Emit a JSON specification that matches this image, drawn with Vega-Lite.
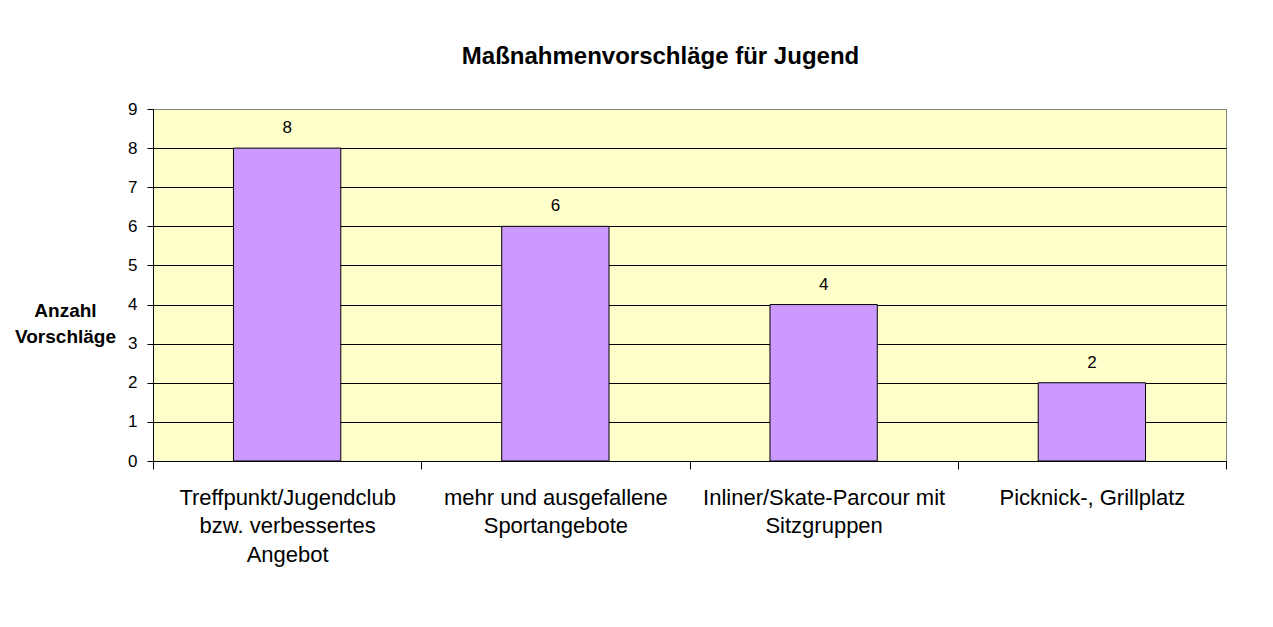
{
  "$schema": "https://vega.github.io/schema/vega-lite/v6.json",
  "width": 1073,
  "height": 352,
  "autosize": {"type": "none"},
  "padding": {"left": 153, "top": 109, "right": 47, "bottom": 166},
  "background": "white",
  "title": {
    "text": "Maßnahmenvorschläge für Jugend",
    "font": "Liberation Sans",
    "fontSize": 24,
    "fontWeight": "bold",
    "color": "black",
    "anchor": "middle",
    "frame": "group",
    "baseline": "alphabetic",
    "dx": -29,
    "offset": 12
  },
  "data": {
    "values": [
      {"kategorie": "Treffpunkt/Jugendclub|bzw. verbessertes|Angebot", "anzahl": 8},
      {"kategorie": "mehr und ausgefallene|Sportangebote", "anzahl": 6},
      {"kategorie": "Inliner/Skate-Parcour mit|Sitzgruppen", "anzahl": 4},
      {"kategorie": "Picknick-, Grillplatz", "anzahl": 2}
    ]
  },
  "encoding": {
    "x": {
      "field": "kategorie",
      "type": "nominal",
      "sort": null,
      "scale": {"paddingInner": 0, "paddingOuter": 0},
      "axis": {
        "title": null,
        "labelAngle": 0,
        "labelExpr": "datum.value ? split(datum.value, '|') : ''",
        "labelFont": "Liberation Sans",
        "labelFontSize": 22,
        "labelColor": "black",
        "labelLineHeight": 28.5,
        "labelLimit": 0,
        "labelOverlap": false,
        "labelBound": false,
        "labelPadding": 18,
        "tickBand": "extent",
        "tickSize": 8,
        "tickColor": "black",
        "domainColor": "black",
        "grid": false
      }
    },
    "y": {
      "field": "anzahl",
      "type": "quantitative",
      "scale": {"domain": [0, 9], "nice": false},
      "axis": {
        "title": ["Anzahl", "Vorschläge"],
        "titleAngle": 0,
        "titleAlign": "center",
        "titleBaseline": "middle",
        "titleX": -88,
        "titleY": 201,
        "titleFont": "Liberation Sans",
        "titleFontSize": 19,
        "titleFontWeight": "bold",
        "titleColor": "black",
        "titleLineHeight": 26,
        "values": [0, 1, 2, 3, 4, 5, 6, 7, 8, 9],
        "labelFont": "Liberation Sans",
        "labelFontSize": 17,
        "labelColor": "black",
        "labelPadding": 10,
        "tickSize": 6,
        "tickColor": "black",
        "domainColor": "black",
        "grid": true,
        "gridColor": {"condition": {"test": "datum.value == 9", "value": "#808080"}, "value": "black"},
        "gridOpacity": 1
      }
    }
  },
  "layer": [
    {
      "mark": {"type": "bar", "color": "#CC99FF", "stroke": "black", "strokeWidth": 1, "width": {"band": 0.4}}
    },
    {
      "mark": {"type": "text", "baseline": "alphabetic", "dy": -15, "font": "Liberation Sans", "fontSize": 17, "color": "black"},
      "encoding": {"text": {"field": "anzahl", "type": "quantitative"}}
    }
  ],
  "config": {
    "view": {"fill": "#FFFFCC", "stroke": "#808080", "strokeWidth": 1}
  }
}
